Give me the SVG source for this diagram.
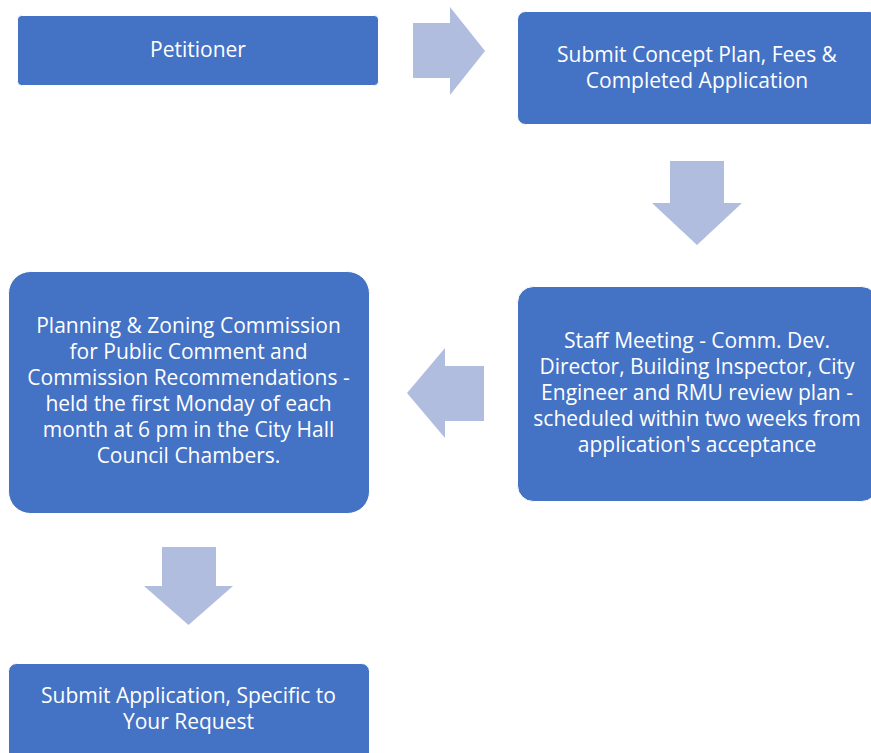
<svg xmlns="http://www.w3.org/2000/svg" width="871" height="753" viewBox="0 0 871 753">
<style>
.box{fill:#4472C4;stroke:#ffffff;stroke-width:1}
.arr{fill:#B0BDDF}
text{font-family:"Open Sans","Noto Sans","Liberation Sans",sans-serif;font-size:21px;fill:#ffffff;text-anchor:middle}
</style>
<rect width="871" height="753" fill="#ffffff"/>
<g id="connectors">
<polygon class="arr" points="413,23 450,23 450,7 485,51 450,95 450,78 413,78"/>
<polygon class="arr" points="670,161 724,161 724,203 742,203 697,245 652,203 670,203"/>
<polygon class="arr" points="484,366 445,366 445,348 407,393 445,438 445,421 484,421"/>
<polygon class="arr" points="162,547 216,547 216,586 233,586 188.5,625 144,586 162,586"/>
</g>
<g id="petitioner">
<rect class="box" x="17.5" y="15.5" width="361" height="70" rx="4"/>
<text x="198" y="57">Petitioner</text>
</g>
<g id="submit-concept">
<rect class="box" x="517.5" y="11.5" width="360" height="113" rx="8"/>
<text x="697" y="62">Submit Concept Plan, Fees &amp;</text>
<text x="697" y="88">Completed Application</text>
</g>
<g id="staff-meeting">
<rect class="box" x="517.5" y="286.5" width="360" height="215" rx="16"/>
<text x="697" y="348">Staff Meeting - Comm. Dev.</text>
<text x="697" y="374">Director, Building Inspector, City</text>
<text x="697" y="400">Engineer and RMU review plan -</text>
<text x="697" y="426">scheduled within two weeks from</text>
<text x="697" y="452">application's acceptance</text>
</g>
<g id="planning-zoning">
<rect class="box" x="8.5" y="271.5" width="361" height="242" rx="22"/>
<text x="188.5" y="333">Planning &amp; Zoning Commission</text>
<text x="188.5" y="359">for Public Comment and</text>
<text x="188.5" y="385">Commission Recommendations -</text>
<text x="188.5" y="411">held the first Monday of each</text>
<text x="188.5" y="437">month at 6 pm in the City Hall</text>
<text x="188.5" y="463">Council Chambers.</text>
</g>
<g id="submit-application">
<rect class="box" x="8.5" y="663.5" width="361" height="110" rx="8"/>
<text x="188.5" y="703">Submit Application, Specific to</text>
<text x="188.5" y="729">Your Request</text>
</g>
</svg>
